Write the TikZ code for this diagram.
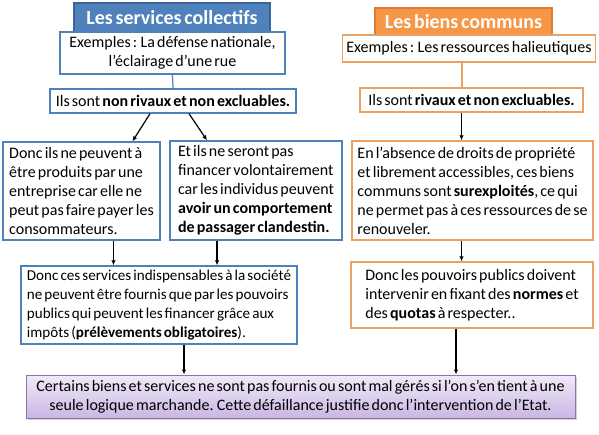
\documentclass[tikz,border=0pt]{standalone}
\usepackage{fontspec}
\setmainfont{Carlito}[WordSpace=0.6]
\usetikzlibrary{arrows.meta, shadows}
\definecolor{offblue}{RGB}{79,129,189}
\definecolor{darkblue}{RGB}{60,100,150}
\definecolor{offorange}{RGB}{247,150,70}
\definecolor{darkorange}{RGB}{220,125,55}
\definecolor{boxorange}{RGB}{235,160,100}
\definecolor{lilac}{RGB}{240,234,248}
\definecolor{lilacdark}{RGB}{203,182,228}
\definecolor{purpleline}{RGB}{140,115,175}

\begin{document}
\begin{tikzpicture}[
  x=1pt, y=-1pt,
  every node/.style={font=\fontsize{16}{19}\selectfont, inner xsep=4pt, inner ysep=2pt},
  arr/.style={-{Latex[length=5pt,width=4.5pt]}, line width=1.2pt, color=black},
  link/.style={line width=1.2pt},
  bluebox/.style={draw=offblue, fill=white, line width=1.4pt, align=left},
  orangebox/.style={draw=boxorange, fill=white, line width=1.4pt, align=left},
  titlebox/.style={line width=1.2pt, text=white, align=center,
                   font=\fontsize{20}{22}\selectfont\bfseries}
]

\fill[white] (0,0) rectangle (599,435);
\useasboundingbox (0,0) rectangle (599,435);

% Colonne gauche : services collectifs
\node[titlebox, fill=offblue, draw=darkblue, minimum width=196, minimum height=29]
  (T1) at (172,17.5) {Les services collectifs};
\node[bluebox, align=center, minimum width=225, minimum height=42]
  (E1) at (172.5,53) {Exemples : La défense nationale,\\l’éclairage d’une rue};
\node[bluebox, align=center, minimum width=246, minimum height=24]
  (R1) at (173,101) {Ils sont \textbf{non rivaux et non excluables.}};
\node[bluebox, minimum width=157, minimum height=98]
  (A1) at (81.5,191)
  {Donc ils ne peuvent à\\être produits par une\\entreprise car elle ne\\peut pas faire payer les\\consommateurs.};
\node[bluebox, minimum width=172, minimum height=99]
  (A2) at (256,190.5)
  {Et ils ne seront pas\\financer volontairement\\car les individus peuvent\\\textbf{avoir un comportement}\\\textbf{de passager clandestin.}};
\node[bluebox, font=\fontsize{15.1}{19}\selectfont, minimum width=276, minimum height=78]
  (C1) at (159,305)
  {Donc ces services indispensables à la société\\ne peuvent être fournis que par les pouvoirs\\publics qui peuvent les financer grâce aux\\impôts (\textbf{prélèvements obligatoires}).};

% Colonne droite : biens communs
\node[titlebox, fill=offorange, draw=darkorange, minimum width=177, minimum height=27]
  (T2) at (463.5,21.5) {Les biens communs};
\node[orangebox, align=center, minimum width=252, minimum height=27]
  (E2) at (469,48.5) {Exemples : Les ressources halieutiques};
\node[orangebox, align=center, minimum width=223, minimum height=24]
  (R2) at (471.5,100) {Ils sont \textbf{rivaux et non excluables.}};
\node[orangebox, minimum width=241, minimum height=99]
  (B1) at (472.5,190.5)
  {En l’absence de droits de propriété\\et librement accessibles, ces biens\\communs sont \textbf{surexploités}, ce qui\\ne permet pas à ces ressources de se\\renouveler.};
\node[orangebox, minimum width=242, minimum height=66]
  (C2) at (472,295)
  {Donc les pouvoirs publics doivent\\intervenir en fixant des \textbf{normes} et\\des \textbf{quotas} à respecter..\hspace{40pt}};

% Conclusion
\node[draw=purpleline, line width=1pt, top color=lilac, bottom color=lilacdark,
      drop shadow={shadow xshift=1.5pt, shadow yshift=-1.5pt, opacity=0.35},
      align=center, minimum width=549, minimum height=43]
  (F) at (300.5,396.5)
  {Certains biens et services ne sont pas fournis ou sont mal gérés si l’on s’en tient à une\\seule logique marchande. Cette défaillance justifie donc l’intervention de l’Etat.};

% Liens
\draw[link, offblue] (E1.south) -- (R1.north);
\draw[link, boxorange] ([xshift=-7]E2.south) -- ([xshift=-7]E2.south |- R2.north);

% Flèches
\draw[arr] ([xshift=-23]R1.south) -- ([xshift=51]A1.north);
\draw[arr] ([xshift=16]R1.south) -- ([xshift=-49]A2.north);
\draw[arr] ([xshift=32]A1.south) -- ([xshift=32]A1.south |- C1.north);
\draw[arr] ([xshift=-39]A2.south) -- ([xshift=-39]A2.south |- C1.north);
\draw[arr] ([xshift=25]C1.south) -- ([xshift=25]C1.south |- F.north);

\draw[arr] ([xshift=-10]R2.south) -- ([xshift=-10]R2.south |- B1.north);
\draw[arr] ([xshift=-11]B1.south) -- ([xshift=-11]B1.south |- C2.north);
\draw[arr] ([xshift=-16]C2.south) -- ([xshift=-16]C2.south |- F.north);

\end{tikzpicture}
\end{document}
